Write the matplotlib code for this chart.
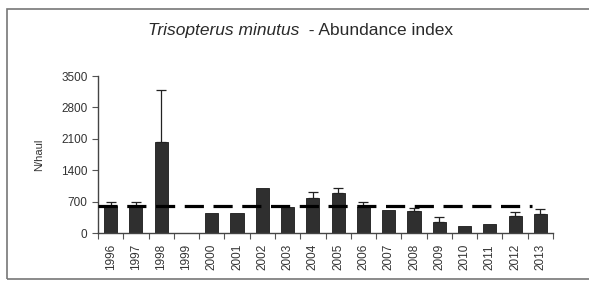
import numpy as np
import matplotlib.pyplot as plt
from matplotlib.patches import Rectangle

plt.rcParams['font.family'] = ['Liberation Sans', 'DejaVu Sans']

# abundance index per year (N/haul)
years = ['1996', '1997', '1998', '1999', '2000', '2001', '2002', '2003', '2004',
         '2005', '2006', '2007', '2008', '2009', '2010', '2011', '2012', '2013']
index = [610, 610, 2020, 0, 440, 440, 995, 590, 785,
         890, 590, 520, 500, 255, 155, 200, 375, 425]
upper_err = [90, 90, 1170, 0, 0, 0, 0, 0, 135,
             120, 110, 0, 50, 110, 0, 0, 100, 105]
mean_index = 595

fig = plt.figure(figsize=(5.89, 2.81), dpi=100)
ax = fig.add_axes([0.1664, 0.1708, 0.7725, 0.5587])

# outer chart frame
fig.patches.append(Rectangle((7 / 589, 2 / 281), 1.0, 270 / 281, transform=fig.transFigure,
                             fill=False, edgecolor='#777777', linewidth=1.2))

x = np.arange(len(years))
ax.bar(x, index, width=0.52, color='#2f2f2f', edgecolor='#1a1a1a', linewidth=0.6, zorder=2)
has_err = np.array(upper_err) > 0
ax.errorbar(x[has_err], np.array(index)[has_err],
            yerr=[np.zeros(has_err.sum()), np.array(upper_err)[has_err]],
            fmt='none', ecolor='#222222', elinewidth=0.9, capsize=3.5, capthick=0.9, zorder=3)
ax.hlines(mean_index, -0.5, len(years) - 1.35, colors='black', linestyles=(0, (6, 3)),
          linewidth=2.3, zorder=4)

ax.set_xlim(-0.5, len(years) - 0.5)
ax.set_ylim(0, 3500)
ax.set_yticks(np.arange(0, 3501, 700))
ax.set_xticks(x)
ax.set_xticklabels(years, rotation=90, fontsize=8.5, color='#333333')
ax.set_xticks(np.arange(-0.5, len(years), 1), minor=True)
ax.tick_params(axis='x', which='major', length=0, pad=8)
ax.tick_params(axis='x', which='minor', length=4, width=0.8, direction='out', color='#555555')
ax.tick_params(axis='y', length=4, width=0.8, labelsize=8.5, labelcolor='#333333', color='#555555')
for s in ['top', 'right']:
    ax.spines[s].set_visible(False)
for s in ['left', 'bottom']:
    ax.spines[s].set_color('#444444')
    ax.spines[s].set_linewidth(1.0)

ax.set_ylabel('N/haul', fontsize=8, color='#333333', labelpad=12)

# title: species name in italics, rest upright
t1 = fig.text(148 / 589, 0.893, 'Trisopterus minutus', ha='left', va='center',
              fontsize=12.5, style='italic', color='#2a2a2a')
ax.annotate('  - Abundance index', xy=(1, 0), xycoords=t1, ha='left', va='bottom',
            fontsize=12.5, color='#2a2a2a', annotation_clip=False)

fig.savefig('out.png', dpi=100)
